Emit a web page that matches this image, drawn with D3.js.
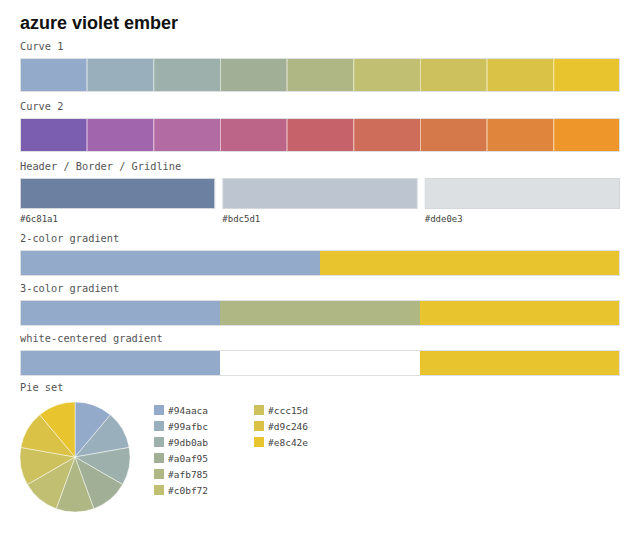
<html>
  <head>
    <style>
      body {
        margin: 0;
        background: #fff;
        font-family: "Liberation Sans", Arial, sans-serif;
      }
      .title {
        font-size: 18px;
        font-weight: bold;
        fill: #111;
      }
      .label {
        font-family: "DejaVu Sans Mono", monospace;
        font-size: 10.3px;
        fill: #555;
      }
      .hex {
        font-family: "DejaVu Sans Mono", monospace;
        font-size: 9px;
        fill: #444;
      }
    </style>
  </head>
  <body>
    <script src="https://d3js.org/d3.v7.min.js"></script>
    <script>
      const curve1 = ["#94aaca", "#99afbc", "#9db0ab", "#a0af95", "#afb785", "#c0bf72", "#ccc15d", "#d9c246", "#e8c42e"];
      const curve2 = ["#7b5eaf", "#a065ad", "#b36ba3", "#bd6588", "#c5626a", "#cd6d5a", "#d6794a", "#df863c", "#ee962a"];
      const headerColors = ["#6c81a1", "#bdc5d1", "#dde0e3"];
      const grad2 = ["#94aaca", "#e8c42e"];
      const grad3 = ["#94aaca", "#afb785", "#e8c42e"];
      const gradWhite = ["#94aaca", "#ffffff", "#e8c42e"];
      const pieColors = ["#94aaca", "#99afbc", "#9db0ab", "#a0af95", "#afb785", "#c0bf72", "#ccc15d", "#d9c246", "#e8c42e"];

      const width = 640, height = 542;
      const left = 20, right = 620;

      const svg = d3.select("body").append("svg")
        .attr("width", width)
        .attr("height", height);

      svg.append("text").attr("class", "title")
        .attr("x", left).attr("y", 29)
        .text("azure violet ember");

      function label(txt, y) {
        svg.append("text").attr("class", "label")
          .attr("x", left).attr("y", y).text(txt);
      }

      // a strip of equal cells
      function strip(colors, y, h, sep) {
        const x = d3.scaleBand().domain(d3.range(colors.length)).range([left, right]);
        const g = svg.append("g");
        g.selectAll("rect")
          .data(colors)
          .join("rect")
          .attr("x", (d, i) => x(i))
          .attr("y", y)
          .attr("width", x.bandwidth())
          .attr("height", h)
          .attr("fill", d => d);
        if (sep) {
          g.selectAll("line")
            .data(colors.slice(1))
            .join("line")
            .attr("x1", (d, i) => x(i + 1) + 0.5)
            .attr("x2", (d, i) => x(i + 1) + 0.5)
            .attr("y1", y)
            .attr("y2", y + h)
            .attr("stroke", "rgba(255,255,255,0.55)");
        }
        g.append("rect")
          .attr("x", left + 0.5).attr("y", y + 0.5)
          .attr("width", right - left - 1).attr("height", h - 1)
          .attr("fill", "none")
          .attr("stroke", "#dde0e3");
      }

      label("Curve 1", 50);
      strip(curve1, 58, 34, true);
      label("Curve 2", 110);
      strip(curve2, 118, 34, true);

      label("Header / Border / Gridline", 170);
      const hx = d3.scaleBand().domain(d3.range(headerColors.length))
        .range([left, right]).paddingInner(0.035);
      const hg = svg.append("g");
      hg.selectAll("rect")
        .data(headerColors)
        .join("rect")
        .attr("x", (d, i) => hx(i) + 0.5)
        .attr("y", 178.5)
        .attr("width", hx.bandwidth() - 1)
        .attr("height", 30)
        .attr("fill", d => d)
        .attr("stroke", "#d4d8dd");
      hg.selectAll("text")
        .data(headerColors)
        .join("text")
        .attr("class", "hex")
        .attr("x", (d, i) => hx(i))
        .attr("y", 222)
        .text(d => d);

      label("2-color gradient", 242);
      strip(grad2, 250, 26, false);
      label("3-color gradient", 292);
      strip(grad3, 300, 26, false);
      label("white-centered gradient", 342);
      strip(gradWhite, 350, 26, false);

      label("Pie set", 391);
      const pie = d3.pie().sort(null).value(1);
      const arc = d3.arc().innerRadius(0).outerRadius(55);
      svg.append("g")
        .attr("transform", "translate(75,457)")
        .selectAll("path")
        .data(pie(pieColors))
        .join("path")
        .attr("d", arc)
        .attr("fill", d => d.data)
        .attr("stroke", "rgba(255,255,255,0.6)")
        .attr("stroke-width", 0.8);

      const legend = svg.append("g");
      const items = legend.selectAll("g")
        .data(pieColors)
        .join("g")
        .attr("transform", (d, i) => `translate(${i < 6 ? 154 : 254},${405 + (i % 6) * 16})`);
      items.append("rect")
        .attr("width", 10).attr("height", 10)
        .attr("fill", d => d);
      items.append("text")
        .attr("class", "hex")
        .attr("x", 14).attr("y", 8.5)
        .style("font-size", "9.5px")
        .text(d => d);
    </script>
  </body>
</html>
